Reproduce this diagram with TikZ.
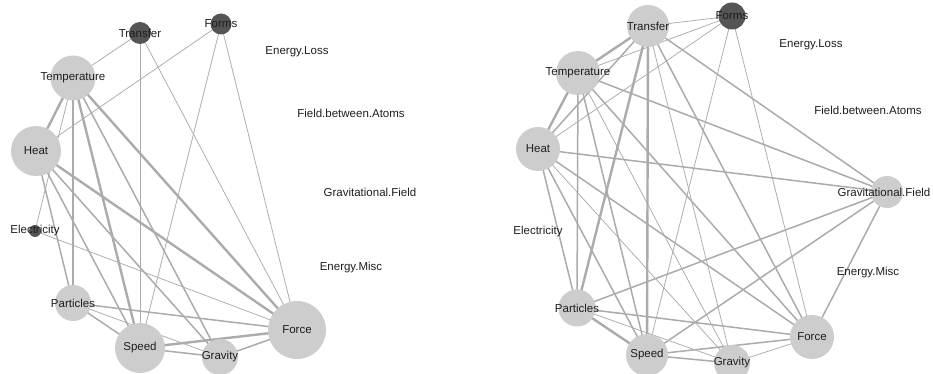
\documentclass[tikz,border=0pt]{standalone}
\usepackage{fontspec}
\setmainfont{Liberation Sans}
\definecolor{nlight}{HTML}{CDCDCD}
\definecolor{ndark}{HTML}{555555}
\definecolor{edgec}{HTML}{ABABAB}
\definecolor{txt}{HTML}{1E1E1E}
\pgfdeclarelayer{bg}
\pgfsetlayers{bg,main}
\tikzset{
  lnode/.style={circle, inner sep=0pt, fill=nlight, minimum size=#1},
  dnode/.style={circle, inner sep=0pt, fill=ndark, minimum size=#1},
  lab/.style={inner sep=0pt, text=txt, font=\fontsize{11.5}{13}\selectfont},
  ethin/.style={draw=edgec, line width=0.75pt},
  emed/.style={draw=edgec, line width=1.5pt},
  ethick/.style={draw=edgec, line width=2.4pt}
}
\begin{document}
\begin{tikzpicture}[x=1pt,y=-1pt]
\useasboundingbox (0,0) rectangle (933,374);
\clip (0,0) rectangle (933,374);
% ---------------- left graph ----------------
\node[dnode=22pt] (LTransfer) at (140,33) {};
\node[dnode=21pt] (LForms) at (221,24) {};
\node[lnode=45pt] (LTemperature) at (73,78) {};
\node[lnode=50pt] (LHeat) at (36,151) {};
\node[dnode=12pt] (LElectricity) at (35,231) {};
\node[lnode=36pt] (LParticles) at (73,303) {};
\node[lnode=50pt] (LSpeed) at (140,348) {};
\node[lnode=36pt] (LGravity) at (220,357) {};
\node[lnode=58pt] (LForce) at (297,330) {};
\node[lab] (LTransferL) at (LTransfer) {Transfer};
\node[lab] (LFormsL) at (LForms) {Forms};
\node[lab] (LTemperatureL) at (LTemperature) {Temperature};
\node[lab] (LHeatL) at (LHeat) {Heat};
\node[lab] (LElectricityL) at (LElectricity) {Electricity};
\node[lab] (LParticlesL) at (LParticles) {Particles};
\node[lab] (LSpeedL) at (LSpeed) {Speed};
\node[lab] (LGravityL) at (LGravity) {Gravity};
\node[lab] (LForceL) at (LForce) {Force};
\node[lab] (LEnergyLoss) at (297,52) {Energy.Loss};
\node[lab] (LFieldAtoms) at (351,113) {Field.between.Atoms};
\node[lab] (LGravField) at (370,192) {Gravitational.Field};
\node[lab] (LEnergyMisc) at (351,268) {Energy.Misc};
\begin{pgfonlayer}{bg}
\draw[ethin] (LTransfer.center) -- (LTemperature.center);
\draw[ethin] (LTransfer.center) -- (LSpeed.center);
\draw[ethin] (LTransfer.center) -- (LForce.center);
\draw[ethin] (LForms.center) -- (LHeat.center);
\draw[ethin] (LForms.center) -- (LSpeed.center);
\draw[ethin] (LForms.center) -- (LForce.center);
\draw[ethick] (LTemperature.center) -- (LHeat.center);
\draw[ethin] (LTemperature.center) -- (LElectricity.center);
\draw[emed] (LTemperature.center) -- (LParticles.center);
\draw[ethick] (LTemperature.center) -- (LSpeed.center);
\draw[emed] (LTemperature.center) -- (LGravity.center);
\draw[ethick] (LTemperature.center) -- (LForce.center);
\draw[emed] (LHeat.center) -- (LParticles.center);
\draw[emed] (LHeat.center) -- (LSpeed.center);
\draw[emed] (LHeat.center) -- (LGravity.center);
\draw[ethick] (LHeat.center) -- (LForce.center);
\draw[ethin] (LElectricity.center) -- (LForce.center);
\draw[emed] (LParticles.center) -- (LSpeed.center);
\draw[ethin] (LParticles.center) -- (LGravity.center);
\draw[emed] (LParticles.center) -- (LForce.center);
\draw[emed] (LSpeed.center) -- (LGravity.center);
\draw[ethick] (LSpeed.center) -- (LForce.center);
\draw[emed] (LGravity.center) -- (LForce.center);
\end{pgfonlayer}
% ---------------- right graph ----------------
\node[lnode=42pt] (RTransfer) at (648,26) {};
\node[dnode=27pt] (RForms) at (732,16) {};
\node[lnode=44pt] (RTemperature) at (578,73) {};
\node[lnode=44pt] (RHeat) at (538,149) {};
\node[lnode=37pt] (RParticles) at (577,308) {};
\node[lnode=42pt] (RSpeed) at (647,355) {};
\node[lnode=36pt] (RGravity) at (732,363) {};
\node[lnode=44pt] (RForce) at (812,337) {};
\node[lnode=32pt] (RGravField) at (887,192) {};
\node[lab] (RTransferL) at (RTransfer) {Transfer};
\node[lab] (RFormsL) at (RForms) {Forms};
\node[lab] (RTemperatureL) at (RTemperature) {Temperature};
\node[lab] (RHeatL) at (RHeat) {Heat};
\node[lab] (RParticlesL) at (RParticles) {Particles};
\node[lab] (RSpeedL) at (RSpeed) {Speed};
\node[lab] (RGravityL) at (RGravity) {Gravity};
\node[lab] (RForceL) at (RForce) {Force};
\node[lab] (RGravFieldL) at (884,192) {Gravitational.Field};
\node[lab] (RElectricity) at (538,232) {Electricity};
\node[lab] (REnergyLoss) at (811,45) {Energy.Loss};
\node[lab] (RFieldAtoms) at (868,110) {Field.between.Atoms};
\node[lab] (REnergyMisc) at (868,273) {Energy.Misc};
\begin{pgfonlayer}{bg}
\draw[ethin] (RTransfer.center) -- (RForms.center);
\draw[ethick] (RTransfer.center) -- (RTemperature.center);
\draw[emed] (RTransfer.center) -- (RHeat.center);
\draw[ethick] (RTransfer.center) -- (RParticles.center);
\draw[ethick] (RTransfer.center) -- (RSpeed.center);
\draw[ethin] (RTransfer.center) -- (RGravity.center);
\draw[emed] (RTransfer.center) -- (RForce.center);
\draw[emed] (RTransfer.center) -- (RGravField.center);
\draw[ethin] (RForms.center) -- (RTemperature.center);
\draw[ethin] (RForms.center) -- (RHeat.center);
\draw[ethin] (RForms.center) -- (RSpeed.center);
\draw[ethin] (RForms.center) -- (RForce.center);
\draw[ethick] (RTemperature.center) -- (RHeat.center);
\draw[emed] (RTemperature.center) -- (RParticles.center);
\draw[emed] (RTemperature.center) -- (RSpeed.center);
\draw[ethin] (RTemperature.center) -- (RGravity.center);
\draw[emed] (RTemperature.center) -- (RForce.center);
\draw[emed] (RTemperature.center) -- (RGravField.center);
\draw[emed] (RHeat.center) -- (RParticles.center);
\draw[emed] (RHeat.center) -- (RSpeed.center);
\draw[ethin] (RHeat.center) -- (RGravity.center);
\draw[emed] (RHeat.center) -- (RForce.center);
\draw[emed] (RHeat.center) -- (RGravField.center);
\draw[ethick] (RParticles.center) -- (RSpeed.center);
\draw[ethin] (RParticles.center) -- (RGravity.center);
\draw[emed] (RParticles.center) -- (RForce.center);
\draw[emed] (RParticles.center) -- (RGravField.center);
\draw[emed] (RSpeed.center) -- (RGravity.center);
\draw[emed] (RSpeed.center) -- (RForce.center);
\draw[emed] (RSpeed.center) -- (RGravField.center);
\draw[ethin] (RGravity.center) -- (RForce.center);
\draw[emed] (RGravField.center) -- (RForce.center);
\end{pgfonlayer}
\end{tikzpicture}
\end{document}
